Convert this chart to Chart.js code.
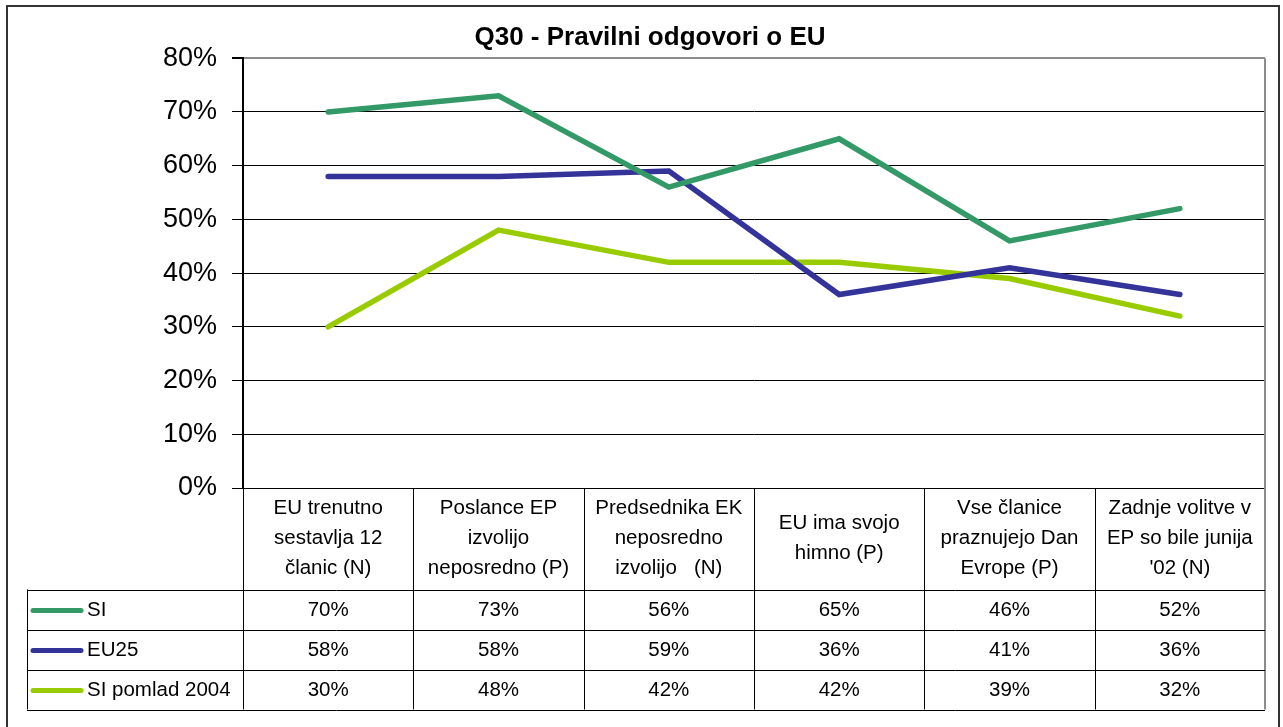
<!DOCTYPE html>
<html>
<head>
<meta charset="utf-8">
<script src="https://cdn.jsdelivr.net/npm/chart.js@4/dist/chart.umd.min.js"></script>
<style>
  html, body { margin: 0; padding: 0; background: #fff; }
  #c { display: block; }
</style>
</head>
<body>
<canvas id="c" width="1283" height="727"></canvas>
<script>
// ---- data ----
const chartTitle = "Q30 - Pravilni odgovori o EU";
const categories = [
  ["EU trenutno", "sestavlja 12", "članic (N)"],
  ["Poslance EP", "izvolijo", "neposredno (P)"],
  ["Predsednika EK", "neposredno", "izvolijo   (N)"],
  ["EU ima svojo", "himno (P)"],
  ["Vse članice", "praznujejo Dan", "Evrope (P)"],
  ["Zadnje volitve v", "EP so bile junija", "'02 (N)"]
];
const seriesNames = ["SI", "EU25", "SI pomlad 2004"];
const siValues = [70, 73, 56, 65, 46, 52];
const eu25Values = [58, 58, 59, 36, 41, 36];
const siPomladValues = [30, 48, 42, 42, 39, 32];
const seriesColors = ["#339966", "#333399", "#99CC00"];
const yTicks = [0, 10, 20, 30, 40, 50, 60, 70, 80];

const FONT = "'Liberation Sans', Arial, sans-serif";
const allValues = [siValues, eu25Values, siPomladValues];

const tablePlugin = {
  id: 'tablePlugin',
  afterDraw(chart) {
    const ctx = chart.ctx;
    const area = chart.chartArea;
    const xs = chart.scales.x;
    const n = categories.length;
    const colW = (area.right - area.left) / n;
    const tableLeft = 27;
    const headerTop = area.bottom;
    const headerBottom = 589.5;
    const rowH = 40;
    const tableBottom = headerBottom + rowH * seriesNames.length;

    ctx.save();
    // outer border
    ctx.strokeStyle = '#333';
    ctx.lineWidth = 2;
    ctx.beginPath();
    ctx.moveTo(7, 740); ctx.lineTo(7, 6); ctx.lineTo(1279, 6); ctx.lineTo(1279, 740);
    ctx.stroke();

    // plot area right border (gray), continues through table
    ctx.strokeStyle = '#8c8c8c';
    ctx.lineWidth = 2;
    ctx.beginPath();
    ctx.moveTo(area.right, area.top); ctx.lineTo(area.right, tableBottom);
    ctx.stroke();

    // table grid
    ctx.strokeStyle = '#000';
    ctx.lineWidth = 1;
    ctx.beginPath();
    for (let r = 0; r <= seriesNames.length; r++) {
      const y = Math.round(headerBottom + r * rowH) + 0.5;
      ctx.moveTo(tableLeft, y); ctx.lineTo(area.right, y);
    }
    ctx.moveTo(tableLeft + 0.5, headerBottom); ctx.lineTo(tableLeft + 0.5, tableBottom);
    for (let i = 0; i < n; i++) {
      const x = Math.round(area.left + i * colW) + 0.5;
      ctx.moveTo(x, headerTop); ctx.lineTo(x, tableBottom);
    }
    ctx.stroke();

    // category labels
    ctx.fillStyle = '#000';
    ctx.font = '20.5px ' + FONT;
    ctx.textAlign = 'center';
    ctx.textBaseline = 'middle';
    const headerMid = (headerTop + headerBottom) / 2;
    const lh = 30;
    categories.forEach((lines, i) => {
      const cx = xs.getPixelForValue(i);
      const y0 = headerMid - (lines.length - 1) * lh / 2;
      lines.forEach((t, k) => ctx.fillText(t, cx, y0 + k * lh));
    });

    // series rows
    seriesNames.forEach((name, r) => {
      const cy = headerBottom + r * rowH + rowH / 2 + 1;
      ctx.strokeStyle = seriesColors[r];
      ctx.lineWidth = 5;
      ctx.lineCap = 'round';
      ctx.beginPath();
      ctx.moveTo(33, cy); ctx.lineTo(81, cy);
      ctx.stroke();
      ctx.fillStyle = '#000';
      ctx.textAlign = 'left';
      ctx.fillText(name, 87, cy);
      ctx.textAlign = 'center';
      allValues[r].forEach((v, i) => {
        ctx.fillText(v + '%', xs.getPixelForValue(i), cy);
      });
    });
    ctx.restore();
  }
};

new Chart(document.getElementById('c'), {
  type: 'line',
  data: {
    labels: categories.map(l => l.join(' ')),
    datasets: seriesNames.map((name, i) => ({
      label: name,
      data: allValues[i],
      borderColor: seriesColors[i],
      backgroundColor: seriesColors[i],
      borderWidth: 5.5,
      borderCapStyle: 'round',
      borderJoinStyle: 'miter',
      pointRadius: 0,
      tension: 0,
      fill: false
    }))
  },
  options: {
    responsive: false,
    animation: false,
    layout: { padding: { top: 0, left: 35, right: 18, bottom: 239 } },
    plugins: {
      legend: { display: false },
      tooltip: { enabled: false },
      title: {
        display: true,
        text: chartTitle,
        color: '#000',
        font: { family: FONT, size: 26, weight: 'bold', lineHeight: 1.2 },
        padding: { top: 22, bottom: 5 }
      }
    },
    scales: {
      x: {
        type: 'category',
        offset: true,
        display: false
      },
      y: {
        min: 0,
        max: 80,
        afterFit(scale) { scale.width = 208; },
        afterBuildTicks(scale) { scale.ticks = yTicks.map(v => ({ value: v })); },
        ticks: {
          color: '#000',
          font: { family: FONT, size: 27 },
          padding: 15,
          callback: v => v + '%'
        },
        grid: {
          color: ctx => (ctx.tick && ctx.tick.value === 80) ? '#8c8c8c' : '#000',
          lineWidth: ctx => (ctx.tick && ctx.tick.value === 80) ? 2 : 1,
          tickColor: '#000',
          tickLength: 11
        },
        border: { color: '#000', width: 2 }
      }
    }
  },
  plugins: [tablePlugin]
});
</script>
</body>
</html>
